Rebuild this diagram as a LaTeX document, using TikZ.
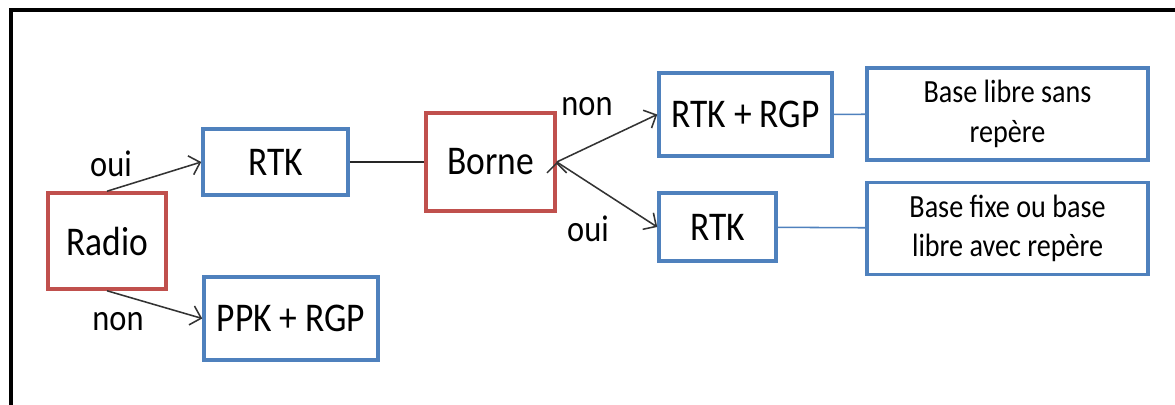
\documentclass[tikz,border=0pt]{standalone}
\usepackage{fontspec}
\setmainfont{Carlito}[FakeStretch=0.87]
\usetikzlibrary{arrows.meta}
\definecolor{boxred}{HTML}{C0504D}
\definecolor{boxblue}{HTML}{4F81BD}

\begin{document}
\begin{tikzpicture}[x=0.025cm,y=-0.025cm,
  test node/.style={draw=boxred,line width=2.5pt,inner sep=0pt,font=\fontsize{29}{33}\selectfont},
  main node/.style={draw=boxblue,line width=2.5pt,inner sep=0pt,font=\fontsize{29}{33}\selectfont},
  note node/.style={draw=boxblue,line width=2.5pt,inner sep=0pt,align=center,
    minimum width=7.025cm,minimum height=2.3cm,font=\fontsize{23}{28}\selectfont},
  choice/.style={draw=black!80,line width=1.1pt,-{Straight Barb[length=7pt,width=14pt]}},
  answer/.style={font=\fontsize{26.5}{30}\selectfont}]

  \useasboundingbox (0,0) rectangle (1175,405);
  \draw[line width=2.8pt] (11,405) -- (11,10) -- (1175,10);

  \node[test node,minimum width=2.95cm,minimum height=2.4cm] (radio) at (107,241) {Radio};
  \node[main node,minimum width=3.625cm,minimum height=1.65cm] (rtk1) at (275.5,162) {RTK};
  \node[main node,minimum width=4.35cm,minimum height=2.075cm] (ppk) at (291,318.5) {PPK + RGP};
  \node[test node,minimum width=3.225cm,minimum height=2.45cm] (borne) at (490.5,162) {Borne};
  \node[main node,minimum width=4.325cm,minimum height=2.075cm] (rgp) at (745.5,114.5) {RTK + RGP};
  \node[main node,minimum width=2.925cm,minimum height=1.7cm] (rtk2) at (717.5,227) {RTK};
  \node[note node] (libre) at (1007.5,114) {Base libre sans\\repère};
  \node[note node] (fixe) at (1007.5,228.5) {Base fixe ou base\\libre avec repère};

  \node[answer] (oui1) at (111,164) {oui};
  \node[answer] (non1) at (118,322) {non};
  \node[answer] (non2) at (587,107) {non};
  \node[answer] (oui2) at (588,229) {oui};

  \path[choice]
    (radio.north) edge (rtk1.west)
    (radio.south) edge (ppk.west)
    (borne.east) edge (rgp.west)
    (borne.east) edge (rtk2.west);
  \draw[black!85,line width=1.1pt] (rtk1) -- (borne);
  \draw[boxblue,line width=1.1pt] (rgp) -- (libre)
    (rtk2) -- (fixe);
\end{tikzpicture}
\end{document}
